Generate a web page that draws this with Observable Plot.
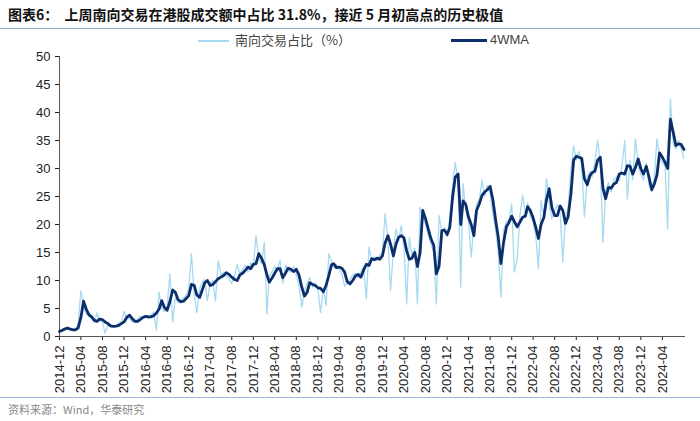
<!DOCTYPE html>
<html><head><meta charset="utf-8">
<script src="https://cdn.jsdelivr.net/npm/d3@7"></script>
<script src="https://cdn.jsdelivr.net/npm/@observablehq/plot@0.6"></script>
<style>
body{margin:0;background:#fff;width:700px;height:421px;overflow:hidden;position:relative;font-family:"Liberation Sans",Arial,sans-serif}
#title{position:absolute;left:8px;top:5px;font-weight:bold;font-size:14px;font-family:"Noto Sans CJK SC",sans-serif;color:#111;white-space:nowrap;line-height:18px}
#tline{position:absolute;left:0;top:28px;width:700px;border-top:1.5px solid #8ea9d5}
.sw{position:absolute;height:0}
.lt{position:absolute;font-size:13px;font-family:"Noto Sans CJK SC",sans-serif;color:#444;white-space:nowrap;line-height:16px}
#chart{position:absolute;left:0;top:48px}
#bline{position:absolute;left:0;top:397px;width:700px;border-top:1px solid #9fb5da}
#source{position:absolute;left:8px;top:402px;font-size:11px;font-family:"Noto Sans CJK SC",sans-serif;color:#888;white-space:nowrap;line-height:14px}
</style></head>
<body>
<div id="title">图表6：&nbsp;&nbsp;上周南向交易在港股成交额中占比 31.8%，接近 5 月初高点的历史极值</div>
<div id="tline"></div>
<div class="sw" style="left:198px;top:40px;width:31px;border-top:2px solid #a6d9f2"></div>
<div class="lt" style="left:235px;top:32px">南向交易占比（%）</div>
<div class="sw" style="left:451px;top:39px;width:36px;border-top:3px solid #0c2f6b"></div>
<div class="lt" style="left:490px;top:32px;font-family:'Liberation Sans',Arial,sans-serif">4WMA</div>
<div id="chart"></div>
<div id="bline"></div>
<div id="source">资料来源：Wind，华泰研究</div>
<script>
const xTickLabels = ["2014-12","2015-04","2015-08","2015-12","2016-04","2016-08","2016-12","2017-04","2017-08","2017-12","2018-04","2018-08","2018-12","2019-04","2019-08","2019-12","2020-04","2020-08","2020-12","2021-04","2021-08","2021-12","2022-04","2022-08","2022-12","2023-04","2023-08","2023-12","2024-04"];

// 4WMA, semi-monthly readings (1st and 16th of each month)
const wma2014 = [0.9,1.1];
const wma2015 = [1.35,1.5,1.3,1.2,1.2,1.5,3.4,6.3,4.9,3.9,3.5,2.9,2.7,3.1,3.0,2.6,2.3,1.9,1.8,1.85,2.0,2.3,2.6,3.4];
const wma2016 = [3.8,3.2,2.7,2.7,3.0,3.4,3.6,3.5,3.5,3.7,4.2,4.9,6.4,5.2,4.7,6.2,8.3,7.9,6.6,6.2,6.3,6.8,7.3,9.3];
const wma2017 = [9.1,7.4,7.0,8.4,9.6,10.0,9.1,9.3,9.8,10.3,10.6,10.9,11.4,11.1,10.6,10.2,10.0,11.0,11.3,11.8,12.4,12.1,12.9,13.0];
const wma2018 = [14.8,14.0,12.8,11.0,9.7,10.4,11.3,12.1,12.1,10.5,11.3,12.2,12.0,11.6,12.0,11.0,8.8,7.2,7.9,9.6,9.3,9.1,8.7,8.6];
const wma2019 = [8.0,9.1,10.9,12.8,13.0,12.3,12.4,12.2,11.5,9.8,9.4,10.0,10.8,11.1,10.6,11.8,12.9,12.7,13.9,13.7,14.0,13.8,14.4,16.7];
const wma2020 = [18.0,16.5,14.4,16.5,17.7,18.0,17.6,15.3,13.8,14.0,15.0,12.5,15.0,22.5,21.0,19.2,17.4,16.3,11.2,12.5,18.9,19.0,18.2,19.5];
const wma2021 = [25.0,28.5,29.0,20.0,24.2,23.6,21.3,20.0,18.0,22.5,23.7,25.2,25.8,26.2,26.8,24.5,20.8,17.7,13.0,16.8,19.6,20.4,21.5,20.5];
const wma2022 = [19.6,20.4,21.3,21.5,23.2,22.5,21.2,19.5,17.5,20.0,21.3,24.5,26.4,23.0,21.6,21.6,23.3,22.5,20.2,21.4,25.5,31.5,32.2,32.0];
const wma2023 = [31.8,28.2,27.1,28.7,29.3,29.5,31.5,32.0,26.5,24.6,26.6,26.5,27.2,27.5,29.0,29.2,29.0,30.5,30.4,29.0,30.2,31.7,30.0,29.0];
const wma2024 = [30.4,28.5,26.2,27.3,28.8,32.8,32.0,31.1,30.0,38.8,36.5,34.1,34.4,34.3,33.4];

// 南向交易占比 (%), same dates
const share2014 = [0.8,1.2];
const share2015 = [1.4,1.6,1.2,1.1,1.3,2.2,8.2,5.5,4.0,3.6,3.2,2.5,4.2,2.9,2.6,0.6,2.0,1.7,1.9,1.8,2.3,2.6,4.5,3.3];
const share2016 = [3.2,2.6,2.9,3.1,3.6,3.3,3.8,3.2,3.8,4.4,1.1,7.9,5.0,4.4,5.5,11.2,2.6,7.0,6.0,6.5,6.9,7.4,8.5,14.8];
const share2017 = [7.5,4.3,8.6,9.8,10.2,6.4,9.5,10.0,6.3,13.5,11.0,11.5,10.8,10.3,9.5,10.8,12.8,11.2,12.0,12.8,11.5,13.2,12.5,18.0];
const share2018 = [14.0,13.0,16.8,4.0,10.8,11.5,12.5,11.8,13.6,9.5,12.8,11.8,11.5,12.5,11.0,9.2,5.2,8.0,9.5,10.5,8.8,9.6,8.5,4.3];
const share2019 = [8.6,5.5,14.8,13.5,12.2,12.8,12.0,11.2,9.0,9.5,10.2,11.0,11.3,10.5,11.5,12.5,6.7,16.0,13.5,14.2,13.5,14.5,15.0,21.9];
const share2020 = [17.5,8.2,15.5,19.2,17.0,19.8,16.0,5.8,17.7,14.5,15.8,5.8,23.1,21.5,20.0,18.0,16.5,15.0,5.8,21.6,18.5,19.5,17.8,21.0];
const share2021 = [27.0,31.1,27.5,8.8,27.3,22.5,20.5,14.2,20.0,23.5,24.5,27.9,25.0,27.0,25.5,22.0,19.0,15.0,7.0,19.0,20.5,21.0,23.7,11.5];
const share2022 = [13.9,21.5,25.2,22.0,23.8,21.5,20.5,18.0,12.1,24.3,21.5,28.2,24.0,21.0,22.5,23.5,22.0,13.3,21.5,23.0,30.0,34.1,31.5,33.0];
const share2023 = [30.5,21.3,28.5,29.5,28.5,31.0,35.0,31.0,16.8,26.0,27.5,25.8,28.0,28.5,27.8,30.5,35.0,24.6,31.5,28.0,35.3,30.5,29.0,28.0];
const share2024 = [31.0,27.0,25.8,28.5,35.3,32.0,31.0,30.5,19.2,42.4,34.5,33.5,35.0,33.5,31.8];

const wmaAll = [].concat(wma2014,wma2015,wma2016,wma2017,wma2018,wma2019,wma2020,wma2021,wma2022,wma2023,wma2024);
const shareAll = [].concat(share2014,share2015,share2016,share2017,share2018,share2019,share2020,share2021,share2022,share2023,share2024);

const start = new Date(Date.UTC(2014,11,1));
const dates = wmaAll.map((_, i) => {
  const m = d3.utcMonth.offset(start, Math.floor(i/2));
  return i % 2 ? d3.utcDay.offset(m, 15) : m;
});
const data = dates.map((d, i) => ({date: d, share: shareAll[i], wma: wmaAll[i]}));
const parse = d3.utcParse("%Y-%m");
const ticks = xTickLabels.map(parse);

const chart = Plot.plot({
  width: 700, height: 350,
  marginLeft: 59, marginRight: 16, marginTop: 8, marginBottom: 62,
  style: {fontFamily: "'Liberation Sans', Arial, sans-serif", fontSize: "13px", color: "#222", background: "#fff", overflow: "visible"},
  x: {type: "utc", domain: [start, new Date(Date.UTC(2024,7,4))], ticks, tickFormat: d3.utcFormat("%Y-%m"), tickRotate: -90, tickSize: 4, label: null},
  y: {domain: [0, 50], ticks: 10, tickSize: 4, label: null},
  marks: [
    Plot.frame({anchor: "left", stroke: "#555"}),
    Plot.frame({anchor: "bottom", stroke: "#555"}),
    Plot.lineY(data, {x: "date", y: "share", stroke: "#a6d9f2", strokeWidth: 1.3}),
    Plot.lineY(data, {x: "date", y: "wma", stroke: "#0c2f6b", strokeWidth: 2.8, strokeLinejoin: "round"})
  ]
});
document.getElementById("chart").appendChild(chart);
</script>
</body></html>
